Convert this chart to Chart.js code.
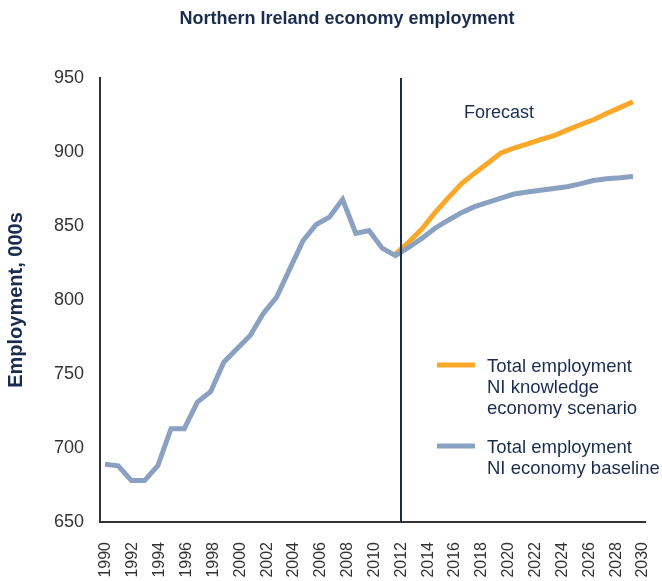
<!DOCTYPE html>
<html>
<head>
<meta charset="utf-8">
<title>Northern Ireland economy employment</title>
<script src="https://cdn.jsdelivr.net/npm/chart.js@4.4.1/dist/chart.umd.min.js"></script>
<style>
  html, body { margin: 0; padding: 0; background: #fff; }
  #wrap { width: 662px; height: 581px; }
</style>
</head>
<body>
<div id="wrap"><canvas id="employmentChart" width="662" height="581"></canvas></div>
<script>
// Employment in thousands, outturn to 2012 then forecast
const years = [1990, 1991, 1992, 1993, 1994, 1995, 1996, 1997, 1998, 1999,
  2000, 2001, 2002, 2003, 2004, 2005, 2006, 2007, 2008, 2009,
  2010, 2011, 2012, 2013, 2014, 2015, 2016, 2017, 2018, 2019,
  2020, 2021, 2022, 2023, 2024, 2025, 2026, 2027, 2028, 2029, 2030];
const baselineValues = [689, 688, 678, 678, 688, 713, 713, 731, 738, 758,
  767, 776, 791, 802, 821, 840, 851, 856, 868, 845,
  847, 835, 830, 835.5, 841.6, 848.5, 853.9, 859, 863.1, 866,
  868.8, 871.6, 873, 874.1, 875.3, 876.5, 878.5, 880.7, 881.9, 882.6, 883.5];
const scenarioYears = [2012, 2013, 2014, 2015, 2016, 2017, 2018, 2019, 2020, 2021,
  2022, 2023, 2024, 2025, 2026, 2027, 2028, 2029, 2030];
const scenarioValues = [831, 839, 848, 859, 869, 878.5, 885.7, 892.4, 899.4, 902.7,
  905.5, 908.3, 911, 914.8, 918.4, 921.8, 926, 930, 934];

const yearTicks = [1990, 1992, 1994, 1996, 1998, 2000, 2002, 2004, 2006, 2008, 2010,
  2012, 2014, 2016, 2018, 2020, 2022, 2024, 2026, 2028, 2030];
const employmentTicks = [650, 700, 750, 800, 850, 900, 950];
const forecastStart = 2012;

const scenarioLabel = ['Total employment', 'NI knowledge', 'economy scenario'];
const baselineLabel = ['Total employment', 'NI economy baseline'];

const NAVY = '#1b2d4f';
const AXIS = '#333333';
const ORANGE = '#f9a82a';
const STEEL = '#8aa1c1';
const FONT = "'Liberation Sans', Arial, Helvetica, sans-serif";

function toPoints(xs, ys) {
  return xs.map((x, i) => ({ x: x, y: ys[i] }));
}

// Title, forecast divider, forecast note and the stacked legend
const annotations = {
  id: 'annotations',
  afterDatasetsDraw(chart) {
    const ctx = chart.ctx;
    const area = chart.chartArea;
    const xLabels = chart.scales.x2;

    ctx.save();

    // divider at the start of the forecast period
    const fx = Math.round(xLabels.getPixelForValue(forecastStart));
    ctx.strokeStyle = NAVY;
    ctx.lineWidth = 2;
    ctx.beginPath();
    ctx.moveTo(fx, area.top);
    ctx.lineTo(fx, area.bottom);
    ctx.stroke();

    ctx.fillStyle = NAVY;
    ctx.textBaseline = 'middle';

    ctx.font = 'bold 18px ' + FONT;
    ctx.textAlign = 'center';
    ctx.fillText('Northern Ireland economy employment', 347, 19);

    ctx.font = '18px ' + FONT;
    ctx.textAlign = 'left';
    ctx.fillText('Forecast', 464, 113);

    // legend entries, one swatch per dataset
    const entries = [
      { ds: chart.data.datasets[1], top: 365 },
      { ds: chart.data.datasets[0], top: 446 }
    ];
    ctx.font = '18.5px ' + FONT;
    entries.forEach(e => {
      ctx.strokeStyle = e.ds.borderColor;
      ctx.lineWidth = 5;
      ctx.beginPath();
      ctx.moveTo(437, e.top);
      ctx.lineTo(475, e.top);
      ctx.stroke();
      ctx.fillStyle = NAVY;
      e.ds.label.forEach((line, i) => {
        ctx.fillText(line, 487, e.top + 2 + i * 21);
      });
    });

    ctx.restore();
  }
};

new Chart(document.getElementById('employmentChart'), {
  type: 'line',
  data: {
    datasets: [
      {
        label: baselineLabel,
        data: toPoints(years, baselineValues),
        borderColor: STEEL,
        borderWidth: 5,
        pointRadius: 0,
        tension: 0,
        xAxisID: 'x',
        order: 0
      },
      {
        label: scenarioLabel,
        data: toPoints(scenarioYears, scenarioValues),
        borderColor: ORANGE,
        borderWidth: 5,
        pointRadius: 0,
        tension: 0,
        xAxisID: 'x',
        order: 1
      }
    ]
  },
  options: {
    responsive: false,
    devicePixelRatio: 1,
    animation: false,
    layout: {
      padding: { top: 78, right: 17, bottom: 0, left: 0 }
    },
    plugins: {
      legend: { display: false },
      title: { display: false },
      tooltip: { enabled: false }
    },
    scales: {
      // position of the plotted years
      x: {
        type: 'linear',
        display: false,
        min: 1989.621,
        max: 2030.909
      },
      // year labels along the bottom
      x2: {
        type: 'linear',
        position: 'bottom',
        min: 1989.553,
        max: 2030.149,
        grid: { display: false, drawTicks: false },
        border: { display: true, color: AXIS, width: 2 },
        afterBuildTicks: scale => {
          scale.ticks = yearTicks.map(v => ({ value: v }));
        },
        afterFit: scale => {
          scale.height = 59;
          scale.paddingLeft = 0;
          scale.paddingRight = 0;
        },
        ticks: {
          autoSkip: false,
          minRotation: 90,
          maxRotation: 90,
          padding: 20,
          color: AXIS,
          font: { family: FONT, size: 16 },
          callback: value => String(value)
        }
      },
      y: {
        type: 'linear',
        min: 650,
        max: 950,
        grid: { display: false, drawTicks: false },
        border: { display: true, color: AXIS, width: 2 },
        afterBuildTicks: scale => {
          scale.ticks = employmentTicks.map(v => ({ value: v }));
        },
        afterFit: scale => {
          scale.width = 100;
          scale.paddingTop = 0;
          scale.paddingBottom = 0;
        },
        ticks: {
          padding: 16,
          color: AXIS,
          font: { family: FONT, size: 18 }
        },
        title: {
          display: true,
          text: 'Employment, 000s',
          color: NAVY,
          font: { family: FONT, size: 20, weight: 'bold' },
          padding: { top: 4, bottom: 0 }
        }
      }
    }
  },
  plugins: [annotations]
});
</script>
</body>
</html>
